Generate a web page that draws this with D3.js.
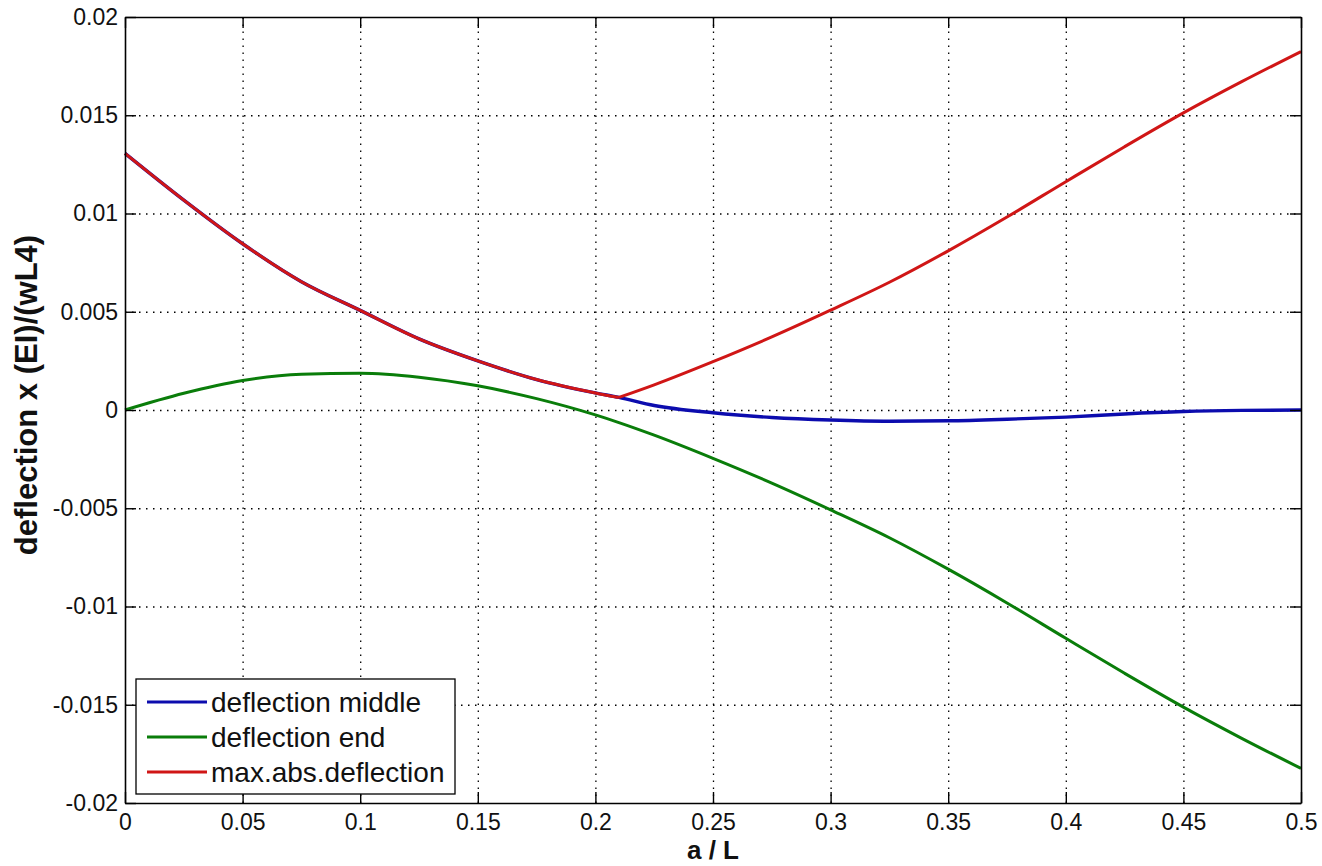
<!DOCTYPE html>
<html>
<head>
<meta charset="utf-8">
<script src="https://cdn.jsdelivr.net/npm/d3@7"></script>
<style>
  body { margin: 0; background: #fff; }
  text { font-family: "Liberation Sans", Arial, sans-serif; fill: #111; }
</style>
</head>
<body>
<div class="canvas"></div>
<script>
const w = 1322;
const h = 866;

// data
const aValues = [0, 0.025, 0.05, 0.075, 0.1, 0.125, 0.15, 0.175, 0.2, 0.21, 0.225, 0.25, 0.275, 0.3, 0.325, 0.35, 0.375, 0.4, 0.425, 0.45, 0.475, 0.5];
const deflMiddle = [0.01306, 0.01068, 0.00846, 0.00653, 0.00507, 0.00362, 0.00250, 0.00155, 0.00087, 0.00064, 0.00023, -0.00014, -0.00038, -0.00051, -0.00057, -0.00055, -0.00047, -0.00036, -0.00020, -0.00008, -0.00002, 0];
const deflEnd = [0, 0.00085, 0.00150, 0.00182, 0.00187, 0.00167, 0.00123, 0.00058, -0.00025, -0.00064, -0.00128, -0.00246, -0.00372, -0.00508, -0.00650, -0.00810, -0.00982, -0.01162, -0.01340, -0.01512, -0.01672, -0.01824];
const maxAbsDefl = [0.01306, 0.01068, 0.00846, 0.00653, 0.00507, 0.00362, 0.00250, 0.00155, 0.00087, 0.00064, 0.00128, 0.00246, 0.00372, 0.00508, 0.00650, 0.00810, 0.00982, 0.01162, 0.01340, 0.01512, 0.01672, 0.01824];
const kinkAt = 0.21; // where max.abs switches from middle to end

const seriesNames = ["deflection middle", "deflection end", "max.abs.deflection"];
const seriesColors = ["#0c0cae", "#0a7d0a", "#d01616"];

const xTicks = [0, 0.05, 0.1, 0.15, 0.2, 0.25, 0.3, 0.35, 0.4, 0.45, 0.5];
const xTickLabels = ["0", "0.05", "0.1", "0.15", "0.2", "0.25", "0.3", "0.35", "0.4", "0.45", "0.5"];
const yTicks = [-0.02, -0.015, -0.01, -0.005, 0, 0.005, 0.01, 0.015, 0.02];
const yTickLabels = ["-0.02", "-0.015", "-0.01", "-0.005", "0", "0.005", "0.01", "0.015", "0.02"];

// margins and dimensions
const margin = { top: 17, right: 21, bottom: 63, left: 125 };
const graphWidth = w - margin.left - margin.right;
const graphHeight = h - margin.top - margin.bottom;

const svg = d3.select(".canvas").append("svg").attr("width", w).attr("height", h);
svg.append("rect").attr("width", w).attr("height", h).attr("fill", "#fff");

const graph = svg.append("g").attr("transform", `translate(${margin.left}, ${margin.top})`);

const xScale = d3.scaleLinear().domain([0, 0.5]).range([0, graphWidth]);
const yScale = d3.scaleLinear().domain([-0.02, 0.02]).range([graphHeight, 0]);

// dotted grid
const gridStyle = (g) => {
  g.select(".domain").remove();
  g.selectAll("line").attr("stroke", "#000").attr("stroke-width", 1.3).attr("stroke-dasharray", "1.5,5.5");
};
graph.append("g").attr("class", "grid")
  .attr("transform", `translate(0, ${graphHeight})`)
  .call(d3.axisBottom(xScale).tickValues(xTicks.slice(1, -1)).tickSize(-graphHeight).tickFormat(""))
  .call(gridStyle);
graph.append("g").attr("class", "grid")
  .call(d3.axisLeft(yScale).tickValues(yTicks.slice(1, -1)).tickSize(-graphWidth).tickFormat(""))
  .call(gridStyle);

// lines
const line = d3.line().x((d) => xScale(d[0])).y((d) => yScale(d[1])).curve(d3.curveMonotoneX);
const pts = (vals) => aValues.map((a, i) => [a, vals[i]]);

graph.append("path").datum(pts(deflMiddle))
  .attr("d", line).attr("fill", "none").attr("stroke", seriesColors[0]).attr("stroke-width", 3.4);
graph.append("path").datum(pts(deflEnd))
  .attr("d", line).attr("fill", "none").attr("stroke", seriesColors[1]).attr("stroke-width", 3);
// red drawn in two pieces so the kink stays sharp
const redPts = pts(maxAbsDefl);
[redPts.filter((d) => d[0] <= kinkAt), redPts.filter((d) => d[0] >= kinkAt)].forEach((part) => {
  graph.append("path").datum(part)
    .attr("d", line).attr("fill", "none").attr("stroke", seriesColors[2]).attr("stroke-width", 3)
    .attr("stroke-linejoin", "round");
});

// axes, ticks pointing inward on all four sides
const axisStyle = (g) => {
  g.select(".domain").attr("stroke", "#000").attr("stroke-width", 1.6);
  g.selectAll(".tick line").attr("stroke", "#000").attr("stroke-width", 1.4);
  g.selectAll(".tick text").style("font-size", "23px").attr("fill", "#1a1a1a");
};
graph.append("g").attr("id", "x-axis")
  .attr("transform", `translate(0, ${graphHeight})`)
  .call(d3.axisBottom(xScale).tickValues(xTicks).tickFormat((d, i) => xTickLabels[i])
    .tickSizeInner(-11).tickSizeOuter(0).tickPadding(11))
  .call(axisStyle);
graph.append("g").attr("id", "y-axis")
  .call(d3.axisLeft(yScale).tickValues(yTicks).tickFormat((d, i) => yTickLabels[i])
    .tickSizeInner(-11).tickSizeOuter(0).tickPadding(7))
  .call(axisStyle);
graph.append("g")
  .call(d3.axisTop(xScale).tickValues(xTicks).tickFormat("").tickSizeInner(-11).tickSizeOuter(0))
  .call(axisStyle);
graph.append("g")
  .attr("transform", `translate(${graphWidth}, 0)`)
  .call(d3.axisRight(yScale).tickValues(yTicks).tickFormat("").tickSizeInner(-11).tickSizeOuter(0))
  .call(axisStyle);

// axis labels
svg.append("text")
  .attr("x", margin.left + graphWidth / 2)
  .attr("y", 859)
  .attr("text-anchor", "middle")
  .style("font-size", "26px")
  .style("font-weight", "bold")
  .text("a / L");

svg.append("text")
  .attr("transform", `translate(37, 395) rotate(-90)`)
  .attr("text-anchor", "middle")
  .style("font-size", "31px")
  .style("font-weight", "bold")
  .text("deflection x (EI)/(wL4)");

// legend
const legend = svg.append("g").attr("transform", "translate(136, 679)");
legend.append("rect")
  .attr("width", 319).attr("height", 115)
  .attr("fill", "#fff").attr("stroke", "#000").attr("stroke-width", 1.3);
seriesNames.forEach((name, i) => {
  const yy = 23 + i * 35;
  legend.append("line")
    .attr("x1", 11).attr("x2", 71).attr("y1", yy).attr("y2", yy)
    .attr("stroke", seriesColors[i]).attr("stroke-width", 3);
  legend.append("text")
    .attr("x", 75).attr("y", yy).attr("dy", "0.35em")
    .style("font-size", "28px")
    .text(name);
});
</script>
</body>
</html>
